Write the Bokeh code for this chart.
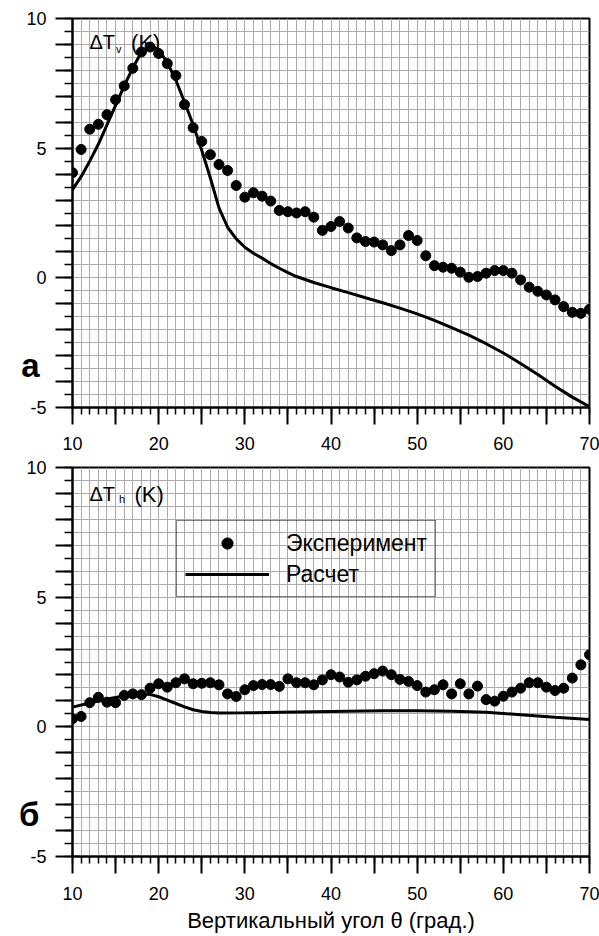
from bokeh.plotting import figure
from bokeh.models import (Range1d, FixedTicker, Label, Legend, LegendItem, LinearAxis,
                          CustomJSTickFormatter)
from bokeh.layouts import column
from bokeh.embed import file_html
from bokeh.resources import INLINE

# ---------------- data ----------------
theta_exp = [10, 11, 12, 13, 14, 15, 16, 17, 18, 19, 20, 21, 22, 23, 24, 25, 26, 27, 28, 29,
             30, 31, 32, 33, 34, 35, 36, 37, 38, 39, 40, 41, 42, 43, 44, 45, 46, 47, 48, 49,
             50, 51, 52, 53, 54, 55, 56, 57, 58, 59, 60, 61, 62, 63, 64, 65, 66, 67, 68, 69, 70]

dtv_exp = [4.05, 4.95, 5.73, 5.92, 6.29, 6.87, 7.40, 8.08, 8.71, 8.90, 8.65, 8.26, 7.80, 6.68,
           5.79, 5.26, 4.75, 4.37, 4.14, 3.56, 3.11, 3.28, 3.15, 2.96, 2.60, 2.55, 2.50, 2.55,
           2.34, 1.83, 1.98, 2.17, 1.92, 1.54, 1.40, 1.38, 1.27, 1.05, 1.27, 1.63, 1.44, 0.85,
           0.47, 0.41, 0.37, 0.22, 0.02, 0.05, 0.18, 0.28, 0.28, 0.18, -0.08, -0.36, -0.52,
           -0.66, -0.85, -1.11, -1.33, -1.37, -1.21]

dth_exp = [0.31, 0.40, 0.93, 1.14, 0.95, 0.93, 1.21, 1.27, 1.24, 1.49, 1.66, 1.53, 1.70, 1.85,
           1.66, 1.68, 1.70, 1.62, 1.27, 1.17, 1.43, 1.59, 1.63, 1.63, 1.56, 1.85, 1.70, 1.70,
           1.62, 1.81, 2.01, 1.92, 1.72, 1.81, 1.95, 2.05, 2.15, 2.01, 1.83, 1.75, 1.59, 1.34,
           1.43, 1.62, 1.27, 1.66, 1.27, 1.57, 1.05, 0.99, 1.18, 1.34, 1.49, 1.70, 1.70, 1.53,
           1.40, 1.49, 1.88, 2.39, 2.78]

theta_calc_v = [10, 11, 12, 13, 14, 15, 16, 17, 18, 19, 20, 21, 22, 23, 24, 25, 26, 27, 28, 29,
                30, 31, 32, 33, 34, 35, 36, 38, 40, 42, 44, 46, 48, 50, 52, 54, 56, 58, 60, 62,
                64, 66, 68, 70]
dtv_calc = [3.40, 3.90, 4.50, 5.15, 5.90, 6.65, 7.40, 8.10, 8.70, 8.97, 8.80, 8.30, 7.62, 6.78,
            5.90, 4.92, 3.85, 2.70, 1.95, 1.50, 1.18, 0.95, 0.76, 0.55, 0.37, 0.20, 0.05, -0.18,
            -0.38, -0.57, -0.77, -0.96, -1.17, -1.39, -1.64, -1.92, -2.21, -2.54, -2.90, -3.30,
            -3.73, -4.18, -4.60, -4.97]

theta_calc_h = [10, 12, 14, 16, 18, 19, 20, 21, 22, 23, 24, 25, 26, 27, 30, 34, 40, 46, 50, 54,
                58, 62, 66, 70]
dth_calc = [0.76, 0.92, 1.07, 1.19, 1.28, 1.25, 1.16, 1.03, 0.90, 0.77, 0.66, 0.59, 0.55, 0.53,
            0.54, 0.56, 0.59, 0.62, 0.62, 0.60, 0.56, 0.47, 0.37, 0.28]

x_major = [10, 15, 20, 25, 30, 35, 40, 45, 50, 55, 60, 65, 70]
x_minor = theta_exp
x_labels = {10: "10", 20: "20", 30: "30", 40: "40", 50: "50", 60: "60", 70: "70"}
y_major = [-5, -4, -3, -2, -1, 0, 1, 2, 3, 4, 5, 6, 7, 8, 9, 10]
y_minor = [-5, -4.5, -4, -3.5, -3, -2.5, -2, -1.5, -1, -0.5, 0, 0.5, 1, 1.5, 2, 2.5, 3, 3.5,
           4, 4.5, 5, 5.5, 6, 6.5, 7, 7.5, 8, 8.5, 9, 9.5, 10]
y_labels = {-5: "-5", 0: "0", 5: "5", 10: "10"}

FONT = "Liberation Sans"
GRID = "#ababab"


def make_panel(height, top, bottom, letter, x_standoff):
    p = figure(width=599, height=height, x_range=Range1d(10, 70), y_range=Range1d(-5, 10),
               output_backend="svg", toolbar_location=None,
               min_border_left=72, min_border_right=10, min_border_top=top,
               min_border_bottom=bottom)
    p.outline_line_color = "black"
    p.outline_line_width = 2
    p.background_fill_color = "white"
    p.border_fill_color = "white"

    p.xaxis.ticker = FixedTicker(ticks=x_major, minor_ticks=x_minor)
    p.yaxis.ticker = FixedTicker(ticks=y_major, minor_ticks=y_minor)
    p.xaxis.major_label_overrides = {k: x_labels.get(k, "") for k in x_major}
    p.yaxis.major_label_overrides = {k: y_labels.get(k, "") for k in y_major}

    for ax in (p.xaxis[0], p.yaxis[0]):
        ax.axis_line_color = "black"
        ax.axis_line_width = 2
        ax.major_tick_line_color = "black"
        ax.major_tick_line_width = 2
        ax.minor_tick_line_color = "black"
        ax.minor_tick_line_width = 1.5
        ax.major_tick_in = 0
        ax.minor_tick_in = 0
        ax.major_tick_out = 17
        ax.major_label_text_font = FONT
        ax.major_label_text_font_size = "18px"
        ax.major_label_text_color = "black"
    p.xaxis.minor_tick_out = 7
    p.yaxis.minor_tick_out = 8
    p.xaxis.major_label_standoff = x_standoff
    p.yaxis.major_label_standoff = 9

    p.xgrid.ticker = FixedTicker(ticks=x_minor)
    p.ygrid.ticker = FixedTicker(ticks=y_minor)
    p.xgrid.grid_line_color = GRID
    p.ygrid.grid_line_color = GRID
    p.xgrid.grid_line_width = 1
    p.ygrid.grid_line_width = 1

    # panel letter, drawn as a tick label of an extra (invisible) left axis
    lax = LinearAxis(ticker=FixedTicker(ticks=[-3.37], minor_ticks=[]),
                     formatter=CustomJSTickFormatter(code="return '%s';" % letter),
                     axis_line_color=None, major_tick_line_color=None,
                     minor_tick_line_color=None, major_tick_out=0, major_tick_in=0,
                     major_label_standoff=-16, major_label_text_font=FONT,
                     major_label_text_font_size="33px", major_label_text_font_style="bold",
                     major_label_text_color="black")
    p.add_layout(lax, "left")
    return p


# ---------------- top panel (a) ----------------
p1 = make_panel(456, 18, 49, "а", 12)
p1.line(theta_calc_v, dtv_calc, line_color="black", line_width=3)
p1.scatter(theta_exp, dtv_exp, size=10, fill_color="black", line_color="black")

p1.add_layout(Label(x=11.97, y=9.085, text="ΔT", text_font=FONT, text_font_size="20px",
                    text_color="black", text_baseline="alphabetic"))
p1.add_layout(Label(x=15.05, y=8.84, text="v", text_font=FONT, text_font_size="11px",
                    text_color="black", text_baseline="alphabetic"))
p1.add_layout(Label(x=16.8, y=9.085, text="(K)", text_font=FONT, text_font_size="22px",
                    text_color="black", text_baseline="alphabetic"))

# ---------------- bottom panel (б) ----------------
p2 = make_panel(480, 11, 80, "б", 13)
calc_r = p2.line(theta_calc_h, dth_calc, line_color="black", line_width=3)
exp_r = p2.scatter(theta_exp, dth_exp, size=10, fill_color="black", line_color="black")

p2.add_layout(Label(x=11.97, y=8.97, text="ΔT", text_font=FONT, text_font_size="20px",
                    text_color="black", text_baseline="alphabetic"))
p2.add_layout(Label(x=15.4, y=8.78, text="h", text_font=FONT, text_font_size="11px",
                    text_color="black", text_baseline="alphabetic"))
p2.add_layout(Label(x=17.2, y=8.97, text="(K)", text_font=FONT, text_font_size="22px",
                    text_color="black", text_baseline="alphabetic"))

p2.xaxis[0].axis_label = "Вертикальный угол θ (град.)"
p2.xaxis[0].axis_label_text_font = FONT
p2.xaxis[0].axis_label_text_font_size = "22px"
p2.xaxis[0].axis_label_text_font_style = "normal"
p2.xaxis[0].axis_label_text_color = "black"
p2.xaxis[0].axis_label_standoff = 5

legend = Legend(items=[LegendItem(label="Эксперимент", renderers=[exp_r]),
                       LegendItem(label="Расчет", renderers=[calc_r])],
                location=(104, 259), margin=0, padding=8, spacing=3,
                glyph_width=84, glyph_height=28, label_height=28, label_standoff=17,
                label_text_font=FONT, label_text_font_size="23px", label_text_color="black",
                border_line_color="black", border_line_width=1.5,
                background_fill_alpha=0)
p2.add_layout(legend, "center")

layout = column(p1, p2)
open("out.html", "w").write(file_html(layout, INLINE))
